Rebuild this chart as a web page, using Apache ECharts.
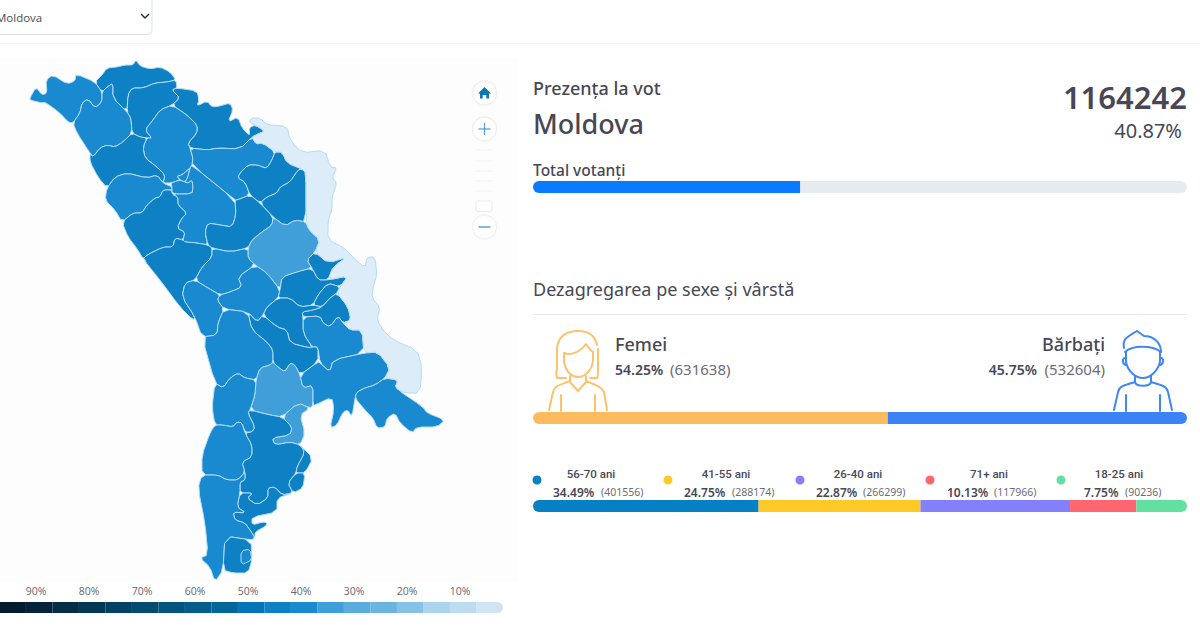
<!DOCTYPE html>
<html>
<head>
<meta charset="utf-8">
<style>html,body{margin:0;padding:0;background:#fff}#c{width:1200px;height:630px}</style>
<script src="https://cdn.jsdelivr.net/npm/echarts@6/dist/echarts.min.js"></script>
</head>
<body>
<div id="c"></div>
<script>
// ---------- data ----------
const overallTurnout = 1164242;
const overallPct = [40.87];
const overallRest = [59.13];
const genderNames = ['Femei', 'Bărbați'];
const genderPct = [54.25, 45.75];
const genderCounts = [631638, 532604];
const genderColors = ['#fdbb5f', '#3b82f6'];
const ageGroups = ['56-70 ani', '41-55 ani', '26-40 ani', '71+ ani', '18-25 ani'];
const agePct = [34.49, 24.75, 22.87, 10.13, 7.75];
const ageCounts = [401556, 288174, 266299, 117966, 90236];
const ageColors = ['#0580c5', '#ffc928', '#8480fc', '#ff6670', '#63dfa0'];

// colour scale (left = high turnout, right = low turnout)
const scaleTicks = [90, 80, 70, 60, 50, 40, 30, 20, 10];
const scaleFloor = [1.9];
const scaleBinWidths = [5,5,5,5,5,5,5,5,5,5,5,5,5,5,5,5,5,5,5];
const scaleColors = ['#041a2d','#03233a','#032d49','#033754','#034264','#044b72','#03547f','#045d8c','#03669a','#0375b8','#0e81c5','#1a8ad0','#409fd9','#5aacdd','#6cb4e0','#86c1e6','#add3ee','#bddcf1','#cfe5f4'];
const noVoteColor = '#dcecf8';

// turnout by territory, estimated from the fill colours
const regionNames = ['Briceni','Edinet','Ocnita','Donduseni','Soroca','Drochia','Riscani','Glodeni','Falesti','Balti','Pirlita','Singerei','Floresti','Soldanesti','Rezina','Telenesti','Orhei','Dubasari','Ungheni','Calarasi','Straseni','Nisporeni','Hincesti','Criuleni','Varnita','Bender','Anenii','ChisinauN','Ialoveni','Cimislia','Basarabeasca','Causeni','StefanVoda','Leova','Cantemir','Comrat','Taraclia1','Taraclia2','Ceadir','Cahul','Vulcanesti','Giurgiulesti','Transnistria'];
const regionTurnout = [40,40,44,44,44,40,44,40,44,40,40,40,40,44,44,44,35,44,44,40,40,40,40,44,44,44,40,44,44,35,35,40,40,40,40,44,44,44,44,40,44,40,0];

// traced territory boundaries, in map units
const regionRings = {
Briceni:[30,98,36,87,42,95,47,93,46,80,53,75,67,84,75,81,76,74,95,82,102,92,102,102,95,108,88,99,82,103,80,113,73,123,68,122,60,113,45,102,42,103,30,100],
Edinet:[102,92,107,87,113,83,113,98,127,112,131,118,132,133,123,142,115,147,107,145,100,148,93,157,90,153,77,133,73,123,80,113,82,103,88,99,95,108,102,102],
Ocnita:[95,82,102,75,107,68,117,67,125,65,133,65,136,60,140,66,150,69,160,67,170,72,176,80,167,82,155,83,143,88,132,88,128,95,127,112,113,98,113,83,107,87,102,92],
Donduseni:[132,88,143,88,155,83,167,82,176,80,177,88,172,90,180,98,172,105,160,110,153,120,145,130,152,138,147,138,140,137,132,133,131,118,127,112,128,95],
Soroca:[177,88,197,91,199,100,197,106,207,101,212,107,220,106,230,103,233,110,228,122,238,117,242,128,250,136,249,128,255,125,265,131,258,134,252,137,240,149,217,148,208,150,190,148,188,143,197,133,197,125,187,115,172,105,180,98,172,90],
Drochia:[172,105,187,115,197,125,197,133,188,143,190,148,193,158,192,165,190,168,182,175,177,176,180,180,171,183,163,183,165,175,157,167,145,158,143,147,147,138,152,138,145,130,153,120,160,110],
Riscani:[132,133,140,137,147,138,143,147,145,158,157,167,165,175,163,183,157,175,147,178,127,173,115,177,107,188,98,177,90,162,90,153,93,157,100,148,107,145,115,147,123,142],
Glodeni:[115,177,127,173,147,178,157,175,163,183,172,187,172,190,163,190,160,197,155,198,147,205,142,213,133,213,122,222,115,210,105,200,107,188],
Falesti:[122,222,133,213,142,213,147,205,155,198,160,197,163,190,172,190,172,194,178,197,178,205,187,213,182,218,177,228,185,232,183,240,175,238,173,247,163,247,147,255,143,259,138,250,128,237],
Balti:[171,183,180,180,185,182,188,183,192,180,193,187,192,194,172,194,172,187],
Pirlita:[177,176,182,175,190,168,188,177,185,182,180,180],
Singerei:[192,165,235,200,236,215,232,227,220,225,208,223,205,232,208,245,197,243,185,242,183,240,185,232,177,228,182,218,187,213,178,205,178,197,172,194,192,194,193,187,192,180,188,183,185,182,188,177,190,168],
Floresti:[190,148,208,150,217,148,240,149,252,137,256,144,263,143,275,152,272,160,267,168,262,167,258,165,248,165,240,173,238,178,245,182,250,195,237,200,235,200,192,165,193,158],
Soldanesti:[275,152,282,152,287,163,302,169,298,170,290,182,280,187,277,193,267,197,260,203,250,195,245,182,238,178,240,173,248,165,258,165,262,167,267,168,272,160],
Rezina:[302,169,306,173,306,222,295,220,285,226,273,217,260,203,267,197,277,193,280,187,290,182,298,170],
Telenesti:[235,200,237,200,250,195,260,203,273,217,272,225,262,232,252,240,248,248,230,252,212,248,208,245,205,232,208,223,220,225,232,227,236,215],
Orhei:[273,217,285,226,295,220,306,222,309,230,320,240,315,252,307,260,312,268,297,272,282,277,280,290,267,273,255,265,248,258,248,248,252,240,262,232,272,225],
Dubasari:[307,260,315,252,328,263,347,257,333,267,328,280,318,280,312,268],
Ungheni:[143,259,147,255,163,247,173,247,175,238,183,240,185,242,197,243,208,245,212,248,212,257,202,267,195,280,185,283,182,297,195,317,193,320,180,307,160,280],
Calarasi:[212,248,230,252,248,248,248,258,255,265,238,277,242,287,230,292,220,295,208,288,195,280,202,267,212,257],
Straseni:[217,300,224,309,248,312,257,322,263,315,267,307,278,298,280,290,267,273,255,265,238,277,242,287,230,292,220,295],
Nisporeni:[185,283,195,280,208,288,220,295,217,300,224,309,218,323,217,335,202,337,195,317,182,297],
Hincesti:[224,309,248,312,252,330,267,342,273,350,273,362,270,365,260,368,256,380,245,378,238,373,230,378,223,388,215,383,202,337,217,335,218,323],
Criuleni:[282,277,297,272,312,268,318,280,328,280,348,276,340,287,328,283,318,295,313,305,300,307,290,298,278,298,280,290],
Varnita:[328,283,340,287,337,293,330,298,322,307,313,305,318,295],
Bender:[337,293,348,307,351,320,343,323,338,316,330,327,323,323,320,316,303,317,302,312,313,310,322,307,330,298],
Anenii:[303,317,320,316,323,323,330,327,338,316,343,323,350,330,362,330,364,353,333,360,330,372,320,363,318,347,312,347,303,333],
ChisinauN:[263,315,267,307,278,298,290,298,300,307,313,305,322,307,313,310,302,312,303,317,303,333,312,347,310,348,290,343,287,330,277,327],
Ialoveni:[248,312,257,322,263,315,277,327,287,330,290,343,310,348,312,347,318,347,318,362,300,375,295,365,290,363,285,372,278,367,273,362,273,350,267,342,252,330],
Cimislia:[256,380,260,368,270,365,273,362,278,367,285,372,290,363,295,365,300,375,303,388,313,385,313,405,310,408,298,403,282,417,270,415,250,410,255,395],
Basarabeasca:[282,417,298,403,310,408,300,415,305,433,300,445,290,442,275,445,272,438,290,435,292,427],
Causeni:[300,375,318,362,320,363,330,372,333,360,364,353,378,352,390,368,385,378,375,385,365,388,357,392,355,398,352,417,348,410,343,412,337,425,330,428,334,410,332,397,315,405,313,405,313,385,303,388],
StefanVoda:[385,378,398,380,395,388,423,407,427,413,445,420,437,427,417,427,412,433,400,423,395,413,387,418,385,427,377,428,373,418,365,410,355,398,357,392,365,388,375,385],
Leova:[215,383,223,388,230,378,238,373,245,378,256,380,255,395,250,410,248,413,255,427,252,432,245,432,242,423,237,422,233,427,223,425,215,425,212,407],
Cantemir:[215,425,223,425,233,427,237,422,242,423,245,433,252,445,252,457,242,462,245,472,238,480,227,480,218,475,202,475,202,455,210,433],
Comrat:[248,413,250,410,270,415,282,417,292,427,290,435,272,438,275,445,290,442,300,445,305,452,297,467,296,473,288,483,293,493,282,495,275,487,268,488,268,498,257,505,247,498,253,493,240,493,240,482,245,480,245,472,242,462,252,457,252,445,245,433,252,432,255,427],
Taraclia1:[300,445,313,458,305,473,296,473,297,467,305,452],
Taraclia2:[296,473,305,473,303,488,293,493,288,483],
Ceadir:[240,493,253,493,247,498,257,505,268,498,268,488,275,487,282,495,293,493,277,498,277,512,252,517,252,525,263,522,267,523,266,526,255,532,255,538,250,530,245,523,235,520,233,512,246,513,237,507],
Cahul:[202,475,218,475,227,480,238,480,245,472,245,480,240,482,240,493,237,507,246,513,233,512,235,520,245,523,250,530,255,538,251,540,225,536,223,570,215,582,210,567,200,558,208,555,205,523,198,488],
Vulcanesti:[225,536,251,540,252,560,248,573,233,573,223,570],
Giurgiulesti:[241,551,250,549,252,560,241,565],
Transnistria:[252,118,260,118,267,125,287,126,290,140,302,153,325,150,330,167,337,168,332,178,337,183,332,197,332,210,328,220,328,240,343,247,353,257,365,268,367,257,375,257,377,275,373,287,372,298,380,307,377,320,383,330,393,340,417,350,422,367,420,393,405,393,395,388,398,380,385,378,390,368,378,352,364,353,362,330,350,330,343,323,351,320,348,307,337,293,340,287,348,276,328,280,333,267,347,257,328,263,315,252,320,240,309,230,306,222,306,173,302,169,287,163,282,152,275,152,263,143,256,144,252,137,258,134,265,131,255,125,249,122]
};

// ---------- build ----------
// round off the corners of a traced ring so boundaries read as rivers and borders
function softenRing(r) {
  const out = [];
  for (let i = 0; i < r.length; i++) {
    const a = r[i], b = r[(i + 1) % r.length];
    out.push([a[0] * 0.78 + b[0] * 0.22, a[1] * 0.78 + b[1] * 0.22]);
    out.push([a[0] * 0.22 + b[0] * 0.78, a[1] * 0.22 + b[1] * 0.78]);
  }
  return out;
}
const bbox = [Infinity, Infinity, -Infinity, -Infinity];
const geoFeatures = regionNames.map(n => {
  const f = regionRings[n], raw = [];
  for (let i = 0; i < f.length; i += 2) raw.push([f[i], f[i + 1]]);
  const ring = softenRing(raw);
  ring.forEach(p => { bbox[0]=Math.min(bbox[0],p[0]); bbox[1]=Math.min(bbox[1],p[1]); bbox[2]=Math.max(bbox[2],p[0]); bbox[3]=Math.max(bbox[3],p[1]); });
  ring.push(ring[0].slice());
  return {type:'Feature', properties:{name:n}, geometry:{type:'Polygon', coordinates:[ring]}};
});
echarts.registerMap('moldova', {type:'FeatureCollection', features:geoFeatures});

const scalePieces = [{lt: scaleFloor[0], color: noVoteColor}];
{
  let top = scaleFloor[0] + scaleBinWidths.reduce((a,b)=>a+b,0);
  scaleBinWidths.forEach((w,i)=>{ scalePieces.push({min: top - w, max: top, color: scaleColors[i]}); top -= w; });
}

const HEAD = '"Noto Sans", sans-serif', NARROW = 'Roboto, sans-serif', BODY = '"Open Sans", sans-serif', INK = '#474755', GREY = '#6c6c78';

function stacked(gridIndex, id, values, colors) {
  return values.map((v,i)=>({
    type:'bar', xAxisIndex:gridIndex, yAxisIndex:gridIndex, stack:id, barWidth:12, silent:true,
    data:[{value:v, itemStyle:{color:colors[i], borderRadius:[i===0?6:0, i===values.length-1?6:0, i===values.length-1?6:0, i===0?6:0]}}]
  }));
}
const sum = a => a.reduce((x,y)=>x+y,0);
const barGrid = (top) => ({left:533, width:654, top:top, height:12, outerBoundsMode:'none'});
const hiddenX = (i,max) => ({type:'value', gridIndex:i, min:0, max:max, show:false});
const hiddenY = (i) => ({type:'category', data:[''], show:false, gridIndex:i});

const T = (x,y,text,size,color,opts={}) => ({type:'text', silent:true, x, y, style:Object.assign({
  text, fontSize:size, fill:color, fontFamily:HEAD, textAlign:'left', textVerticalAlign:'middle'}, opts)});
let pathCount = 0;
const pathShape = d => { const name = 'iconPath' + (pathCount++); echarts.graphic.registerShape(name, echarts.graphic.extendPath(d, {})); return name; };
const P = (d,color,width) => ({type:pathShape(d), silent:true, style:{fill:'none', stroke:color, lineWidth:width, lineCap:'round', lineJoin:'round'}});
const L = (x1,y1,x2,y2,color,w=1) => ({type:'line', silent:true, shape:{x1,y1,x2,y2}, style:{stroke:color, lineWidth:w}});
const C = (cx,cy,r,fill,stroke) => ({type:'circle', silent:true, shape:{cx,cy,r}, style:{fill, stroke:stroke||'none', lineWidth:stroke?1.5:0}});

const ageDotX = [537,668,800,930,1061];
const ageLabelX = [591,726,858,989,1119];
const agePctX = [553,684,816,947,1084];
const ageCountX = [601,732,863,994,1125];
const OW = '#fdc26b', MN = '#3f87f5';

const graphics = [
  // page furniture
  {type:'rect', silent:true, z:-10, shape:{x:0,y:58,width:518,height:524}, style:{fill:'#fdfdfd'}},
  L(0,43.5,1200,43.5,'#f4f4f4'),
  {type:'rect', silent:true, shape:{x:-6,y:-6,width:158,height:40.5,r:5}, style:{fill:'#fff',stroke:'#d6e3ee',lineWidth:1}},
  T(-4,17,'Moldova',11.5,'#4a4f55',{fontFamily:BODY}),
  P('M141.5 14.5 L145 18 L148.5 14.5','#333',1.5),
  // map controls
  C(484.5,93,12,'#fff','#f3efec'),
  {type:pathShape('M484.5 87 L491 93.5 L489 93.5 L489 98.5 L486.3 98.5 L486.3 95 L482.7 95 L482.7 98.5 L480 98.5 L480 93.5 L478 93.5 Z'), silent:true, style:{fill:'#0a76b8'}},
  C(484.5,129,12,'#fff','#f3efec'),
  L(478.5,129,490.5,129,'#4f9dd1',1.2), L(484.5,123,484.5,135,'#4f9dd1',1.2),
  L(476,150,492,150,'#f5f3f2'), L(476,161,492,161,'#f5f3f2'), L(476,171,492,171,'#f5f3f2'), L(476,181,492,181,'#f5f3f2'), L(476,191,492,191,'#f5f3f2'),
  {type:'rect', silent:true, shape:{x:476,y:201,width:16,height:10.5,r:2}, style:{fill:'#fff',stroke:'#ece9e7',lineWidth:1}},
  C(484.5,227,12,'#fff','#f0f3f5'),
  L(478.5,227,490.5,227,'#79b3da',1.8),
  // header block
  T(533,88,'Prezența la vot',18,INK,{fontWeight:500}),
  T(533,123,'Moldova',27,INK,{fontWeight:500}),
  T(1187,97,String(overallTurnout),31,INK,{textAlign:'right',fontWeight:600}),
  T(1182,130,overallPct[0]+'%',20,INK,{textAlign:'right'}),
  T(533,170,'Total votanți',15.5,INK,{fontWeight:500}),
  T(533,289,'Dezagregarea pe sexe și vârstă',18,INK),
  L(533,314.5,1187,314.5,'#e6e6ea'),
  // gender block
  T(615,344,genderNames[0],18,INK,{fontWeight:500}),
  T(615,369,genderPct[0]+'%',14,INK,{fontWeight:600}),
  T(670,369,'('+genderCounts[0]+')',15,GREY),
  T(1105,344,genderNames[1],18,INK,{textAlign:'right',fontWeight:500}),
  T(1037,369,genderPct[1]+'%',14,INK,{textAlign:'right',fontWeight:600}),
  T(1105,369,'('+genderCounts[1]+')',15,GREY,{textAlign:'right'}),
  // woman icon
  P('M597 345 C595 335 588 331 578 331 C566 331 558 337 557 348 L557 368 C556 372 556 375 557 378 L566 378',OW,2),
  P('M598 349 L598 370 C598 374 598 376 597 378 L590 378',OW,2),
  P('M564 353 C571 356 580 352 586 344 C589 348 591 351 593 352 L593 361 C592 370 585 377 578 377 C572 377 566 372 564 362 Z',OW,2),
  P('M570 376 L570 382 L578 391 L586 382 L586 376',OW,2),
  P('M570 381 C560 385 554 386 553 392 L549 410',OW,2),
  P('M586 381 C595 385 601 386 604 392 L607 410',OW,2),
  P('M561 395 L561 411 M595 395 L595 411',OW,2),
  // man icon
  P('M1124 348 C1122 338 1128 337 1137 331 L1144 336 C1153 336 1161 342 1161 352',MN,2),
  P('M1125 352 C1132 345 1152 345 1161 352',MN,2),
  P('M1126 352 L1126 362 C1128 372 1136 378 1143 378 C1151 378 1158 370 1160 362 L1160 352',MN,2),
  P('M1125 358 C1122 358 1122 364 1126 365 M1161 358 C1164 358 1164 364 1160 365',MN,2),
  P('M1135 376 L1135 382 C1136 387 1150 387 1151 382 L1151 376',MN,2),
  P('M1135 382 C1125 385 1119 386 1118 392 L1114 410',MN,2),
  P('M1151 382 C1161 385 1167 386 1168 392 L1172 410',MN,2),
  P('M1126 395 L1126 411 M1160 395 L1160 411',MN,2)
];
ageGroups.forEach((g,i)=>{
  graphics.push(C(ageDotX[i],480,4.5,ageColors[i]));
  graphics.push(T(ageLabelX[i],474,g,11.5,INK,{textAlign:'center',fontWeight:500,fontFamily:NARROW}));
  graphics.push(T(agePctX[i],492,agePct[i]+'%',12,INK,{fontWeight:600}));
  graphics.push(T(ageCountX[i],492,'('+ageCounts[i]+')',10.5,GREY));
});

const option = {
  animation:false,
  backgroundColor:'#ffffff',
  graphic:{elements:graphics},
  grid:[barGrid(181), barGrid(412), barGrid(500), {left:-17, width:530, top:602, height:11, outerBoundsMode:'none'}],
  xAxis:[hiddenX(0,100), hiddenX(1,sum(genderPct)), hiddenX(2,sum(agePct)),
    {type:'value', gridIndex:3, min:0, max:100, interval:10, inverse:true, position:'top',
     axisLine:{show:false}, axisTick:{show:false}, splitLine:{show:false},
     axisLabel:{margin:6, fontSize:10.5, color:'#66666e', fontFamily:BODY,
       formatter:v=>scaleTicks.includes(v)?v+'%':''}}],
  yAxis:[hiddenY(0), hiddenY(1), hiddenY(2), hiddenY(3)],
  visualMap:{show:false, type:'piecewise', seriesIndex:0, pieces:scalePieces},
  series:[
    {type:'map', map:'moldova', projection:{project:p=>p, unproject:p=>p},
     left:bbox[0], top:bbox[1], width:bbox[2]-bbox[0], height:bbox[3]-bbox[1], roam:false, silent:true, selectedMode:false,
     label:{show:false}, emphasis:{disabled:true},
     itemStyle:{borderColor:'#b5dcf5', borderWidth:1},
     data:regionNames.map((n,i)=>({name:n, value:regionTurnout[i]}))},
    ...stacked(0,'total',[overallPct[0],overallRest[0]],['#0a7bff','#e6ebf0']),
    ...stacked(1,'gender',genderPct,genderColors),
    ...stacked(2,'age',agePct,ageColors),
    {type:'bar', xAxisIndex:3, yAxisIndex:3, stack:'scale', barWidth:11, silent:true, data:[{value:scaleFloor[0], itemStyle:{color:'transparent'}}]},
    ...scaleBinWidths.slice().reverse().map((w,i)=>({type:'bar', xAxisIndex:3, yAxisIndex:3, stack:'scale', barWidth:11, silent:true,
      data:[{value:w, itemStyle:{color:scaleColors[scaleColors.length-1-i], borderRadius:i===0?[0,6,6,0]:0}}]}))
  ]
};
echarts.init(document.getElementById('c'), null, {renderer:'svg'}).setOption(option);
</script>
</body>
</html>
